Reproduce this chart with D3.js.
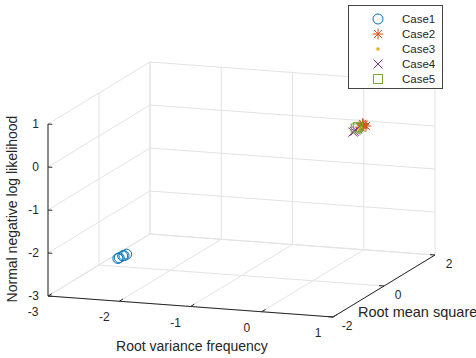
<!DOCTYPE html>
<html>
<head>
<meta charset="utf-8">
<script src="https://cdn.jsdelivr.net/npm/d3@7"></script>
<style>
  body { margin: 0; background: #fff; }
  text { font-family: "Liberation Sans", Arial, sans-serif; fill: #262626; }
</style>
</head>
<body>
<div id="chart"></div>
<script>
// tick values for the three axes
const xTicks = [-3, -2, -1, 0, 1];
const yTicks = [-2, 0, 2];
const zTicks = [-3, -2, -1, 0, 1];

// (x = root variance frequency, y = root mean square, z = NLL)
const case1 = {
  x: [-2.27, -2.24, -2.21, -2.18, -2.15],
  y: [-1.30, -1.33, -1.28, -1.31, -1.29],
  z: [-2.29, -2.26, -2.23, -2.21, -2.18]
};
const case2 = {
  x: [0.27, 0.30, 0.33, 0.29, 0.35, 0.31],
  y: [1.10, 1.12, 1.08, 1.10, 1.11, 1.09],
  z: [0.21, 0.25, 0.28, 0.19, 0.24, 0.30]
};
const case3 = {
  x: [0.25, 0.27],
  y: [1.10, 1.10],
  z: [0.17, 0.20]
};
const case4 = {
  x: [0.17, 0.21, 0.19],
  y: [1.10, 1.10, 1.10],
  z: [0.08, 0.13, 0.10]
};
const case5 = {
  x: [0.21, 0.24],
  y: [1.10, 1.10],
  z: [0.17, 0.21]
};

const seriesNames = ['Case1', 'Case2', 'Case3', 'Case4', 'Case5'];
const seriesData = [case1, case2, case3, case4, case5];
const colors = ['#0072BD', '#D95319', '#EDB120', '#7E2F8E', '#77AC30'];

const width = 476;
const height = 358;

const svg = d3.select('#chart')
  .append('svg')
  .attr('width', width)
  .attr('height', height);

// each axis goes to 0..1, then a fixed oblique projection
const xScale = d3.scaleLinear().domain([-3, 1]).range([0, 1]);
const yScale = d3.scaleLinear().domain([-2, 2]).range([0, 1]);
const zScale = d3.scaleLinear().domain([-3, 1]).range([0, 1]);

const origin = [48, 296];
const ex = [285, 21];
const ey = [102, -62];
const ez = [0, -172];

function proj(x, y, z) {
  const u = xScale(x), v = yScale(y), w = zScale(z);
  return [
    origin[0] + u * ex[0] + v * ey[0] + w * ez[0],
    origin[1] + u * ex[1] + v * ey[1] + w * ez[1]
  ];
}

function seg(g, a, b, color, w) {
  g.append('line')
    .attr('x1', a[0]).attr('y1', a[1])
    .attr('x2', b[0]).attr('y2', b[1])
    .attr('stroke', color)
    .attr('stroke-width', w);
}

// grid
const grid = svg.append('g').attr('class', 'grid');
const gridColor = '#e3e3e3';
xTicks.forEach((t) => {
  seg(grid, proj(t, 2, -3), proj(t, 2, 1), gridColor, 1);   // back wall
  seg(grid, proj(t, -2, -3), proj(t, 2, -3), gridColor, 1); // floor
});
yTicks.forEach((t) => {
  seg(grid, proj(-3, t, -3), proj(-3, t, 1), gridColor, 1); // left wall
  seg(grid, proj(-3, t, -3), proj(1, t, -3), gridColor, 1); // floor
});
zTicks.forEach((t) => {
  seg(grid, proj(-3, -2, t), proj(-3, 2, t), gridColor, 1);
  seg(grid, proj(-3, 2, t), proj(1, 2, t), gridColor, 1);
});

// axes
const axes = svg.append('g').attr('class', 'axes');
const axisColor = '#262626';
seg(axes, proj(-3, -2, -3), proj(1, -2, -3), axisColor, 1);
seg(axes, proj(1, -2, -3), proj(1, 2, -3), axisColor, 1);
seg(axes, proj(-3, -2, -3), proj(-3, -2, 1), axisColor, 1);

xTicks.forEach((t) => {
  seg(axes, proj(t, -2, -3), proj(t, -1.85, -3), axisColor, 1);
  const p = proj(t, -2, -3);
  axes.append('text')
    .attr('x', p[0] - 15).attr('y', p[1] + 20)
    .attr('text-anchor', 'middle')
    .attr('font-size', 12)
    .text(t);
});
yTicks.forEach((t) => {
  seg(axes, proj(1, t, -3), proj(0.93, t, -3), axisColor, 1);
  const p = proj(1, t, -3);
  axes.append('text')
    .attr('x', p[0] + 14).attr('y', p[1] + 13)
    .attr('text-anchor', 'middle')
    .attr('font-size', 12)
    .text(t);
});
zTicks.forEach((t) => {
  seg(axes, proj(-3, -2, t), proj(-2.94, -2, t), axisColor, 1);
  const p = proj(-3, -2, t);
  axes.append('text')
    .attr('x', p[0] - 9).attr('y', p[1] + 4)
    .attr('text-anchor', 'end')
    .attr('font-size', 12)
    .text(t);
});

// axis titles
svg.append('text')
  .attr('x', 192).attr('y', 351)
  .attr('text-anchor', 'middle')
  .attr('font-size', 14)
  .text('Root variance frequency');
svg.append('text')
  .attr('x', 358).attr('y', 317)
  .attr('font-size', 14.5)
  .text('Root mean square');
svg.append('text')
  .attr('transform', 'translate(17, 209) rotate(-90)')
  .attr('text-anchor', 'middle')
  .attr('font-size', 14)
  .text('Normal negative log likelihood');

// markers
function drawMarker(g, i, cx, cy) {
  const c = colors[i];
  if (i === 0) {
    g.append('circle').attr('cx', cx).attr('cy', cy).attr('r', 5)
      .attr('fill', 'none').attr('stroke', c).attr('stroke-width', 1);
  } else if (i === 1) {
    const r = 5.5, d = r * 0.707;
    [[-r, 0, r, 0], [0, -r, 0, r], [-d, -d, d, d], [-d, d, d, -d]].forEach((s) => {
      g.append('line')
        .attr('x1', cx + s[0]).attr('y1', cy + s[1])
        .attr('x2', cx + s[2]).attr('y2', cy + s[3])
        .attr('stroke', c).attr('stroke-width', 1);
    });
  } else if (i === 2) {
    g.append('circle').attr('cx', cx).attr('cy', cy).attr('r', 1.8)
      .attr('fill', c);
  } else if (i === 3) {
    const d = 4.5;
    [[-d, -d, d, d], [-d, d, d, -d]].forEach((s) => {
      g.append('line')
        .attr('x1', cx + s[0]).attr('y1', cy + s[1])
        .attr('x2', cx + s[2]).attr('y2', cy + s[3])
        .attr('stroke', c).attr('stroke-width', 1);
    });
  } else {
    g.append('rect').attr('x', cx - 4.5).attr('y', cy - 4.5)
      .attr('width', 9).attr('height', 9)
      .attr('fill', 'none').attr('stroke', c).attr('stroke-width', 1);
  }
}

const points = svg.append('g').attr('class', 'points');
seriesData.forEach((s, i) => {
  s.x.forEach((xv, j) => {
    const p = proj(xv, s.y[j], s.z[j]);
    drawMarker(points, i, p[0], p[1]);
  });
});

// legend
const legend = svg.append('g').attr('class', 'legend');
legend.append('rect')
  .attr('x', 348.5).attr('y', 5.5)
  .attr('width', 94).attr('height', 83)
  .attr('fill', '#fff')
  .attr('stroke', '#444')
  .attr('stroke-width', 1);
seriesNames.forEach((name, i) => {
  const y = 19 + i * 15;
  drawMarker(legend, i, 378, y);
  legend.append('text')
    .attr('x', 402).attr('y', y + 4)
    .attr('font-size', 11.5)
    .text(name);
});
</script>
</body>
</html>
